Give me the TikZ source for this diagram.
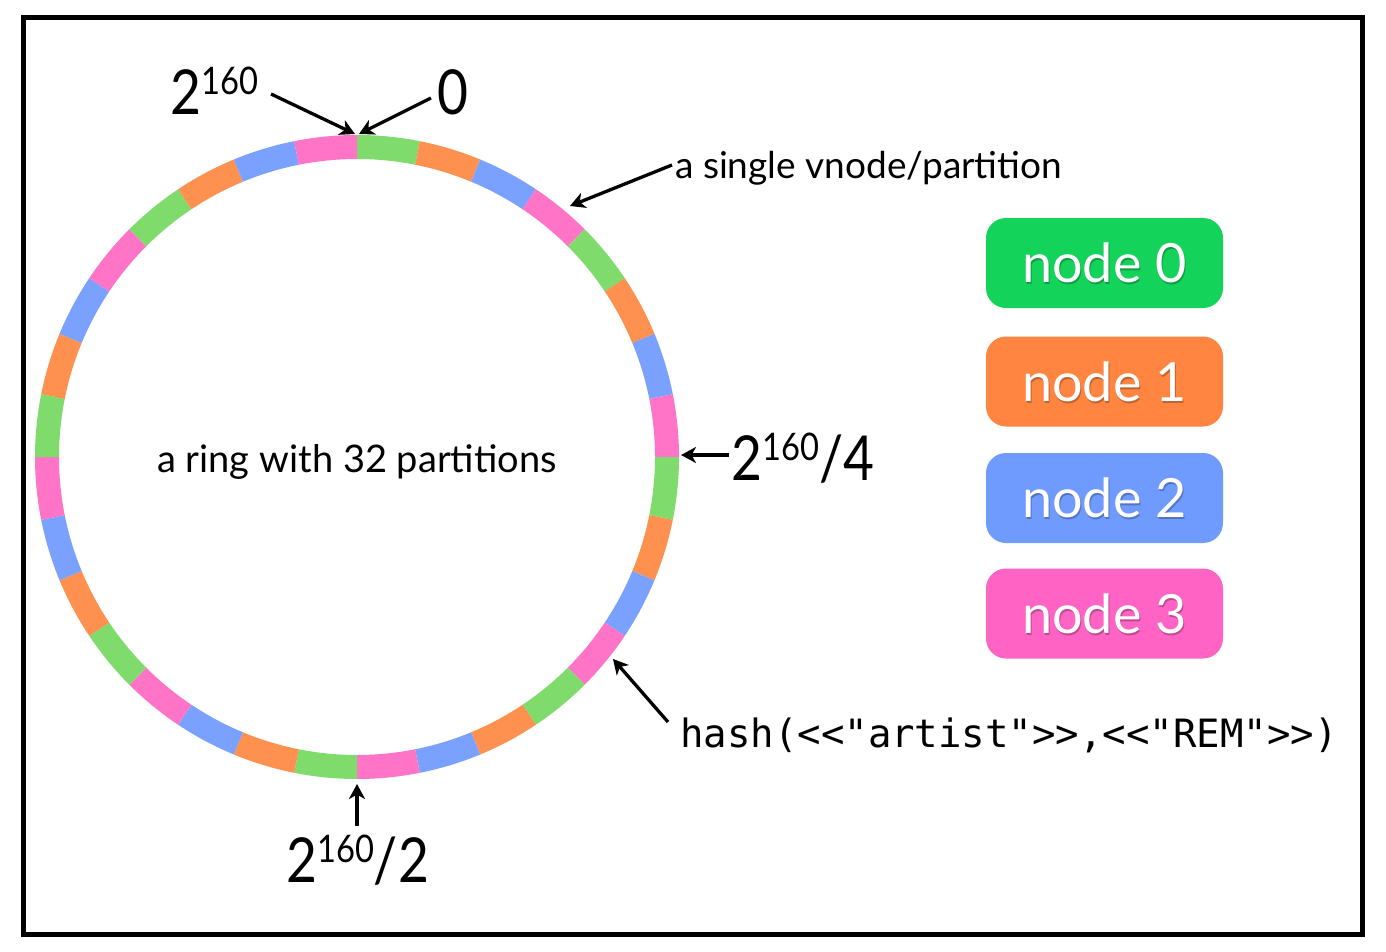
\documentclass[tikz,border=0pt]{standalone}
\usepackage{fontspec}
\setmainfont{Lato}
\newfontfamily\monofont[Ligatures=TeXOff]{DejaVu Sans Mono}
\usetikzlibrary{arrows.meta}
\definecolor{rgreen}{HTML}{7FDC6C}
\definecolor{rorange}{HTML}{FF9150}
\definecolor{rblue}{HTML}{7BA1FF}
\definecolor{rpink}{HTML}{FF74C7}
\definecolor{bgreen}{HTML}{14D35B}
\definecolor{borange}{HTML}{FF8540}
\definecolor{bblue}{HTML}{6F9BFF}
\definecolor{bpink}{HTML}{FF63C3}
\newcommand\bigexp[1]{\scalebox{0.86}[1]{\fontsize{62}{62}\selectfont 2\raisebox{20pt}{\fontsize{38}{38}\selectfont 160}#1}}
\tikzset{
  nodebox/.style={rounded corners=20pt, minimum width=237pt, minimum height=90pt, inner sep=0pt},
  boxtext/.style={inner sep=0pt, text=white, font=\fontsize{54}{54}\selectfont},
  shadowtext/.style={inner sep=0pt, font=\fontsize{54}{54}\selectfont},
  lbl/.style={inner sep=0pt, font=\fontsize{37}{37}\selectfont},
  arr/.style={-{Stealth[length=15pt,width=16pt,inset=4.5pt]}, line width=3.3pt}
}
\begin{document}
\begin{tikzpicture}[x=1pt,y=-1pt]
\useasboundingbox (0,0) rectangle (1386,952);
\fill[white] (0,0) rectangle (1386,952);
\draw[line width=5pt] (23.5,17.5) rectangle (1362.5,934.5);
\coordinate (c) at (357,457);
\foreach \g in {0,...,7}{
  \foreach \j/\col in {0/rgreen,1/rorange,2/rblue,3/rpink}{
    \pgfmathsetmacro\a{-90+11.25*(4*\g+\j)}
    \pgfmathsetmacro\b{\a+11.25}
    \fill[\col, shift={(c)}] (\a:322) arc[start angle=\a, end angle=\b, radius=322]
      -- (\b:298) arc[start angle=\b, end angle=\a, radius=298] -- cycle;
  }
}
% ring label
\node[lbl, font=\fontsize{38}{38}\selectfont] (ringlbl) at (357,462) {a ring with 32 partitions};
% legend boxes
\node[nodebox, fill=bgreen] (n0) at (1104.5,263) {};
\node[nodebox, fill=borange] (n1) at (1104.5,381.5) {};
\node[nodebox, fill=bblue] (n2) at (1104.5,498) {};
\node[nodebox, fill=bpink] (n3) at (1104.5,613.5) {};
\node[shadowtext, text=bgreen!75!black] (s0) at ([shift={(1,2)}]n0.center) {node 0};
\node[boxtext] (t0) at (n0.center) {node 0};
\node[shadowtext, text=borange!75!black] (s1) at ([shift={(1,2)}]n1.center) {node 1};
\node[boxtext] (t1) at (n1.center) {node 1};
\node[shadowtext, text=bblue!75!black] (s2) at ([shift={(1,2)}]n2.center) {node 2};
\node[boxtext] (t2) at (n2.center) {node 2};
\node[shadowtext, text=bpink!75!black] (s3) at ([shift={(1,2)}]n3.center) {node 3};
\node[boxtext] (t3) at (n3.center) {node 3};
% labels
\node[inner sep=0pt, anchor=base west] (lmax) at (170,115) {\bigexp{}};
\node[inner sep=0pt, anchor=base west, font=\fontsize{62}{62}\selectfont] (lzero) at (437,115) {\scalebox{0.86}[1]{0}};
\node[inner sep=0pt, anchor=base west] (lquarter) at (731,480) {\bigexp{/4}};
\node[inner sep=0pt, anchor=base west] (lhalf) at (286,882) {\bigexp{/2}};
\node[lbl, anchor=west] (lvnode) at (675,168) {a single vnode/partition};
\node[inner sep=0pt, anchor=west, font=\fontsize{39}{39}\selectfont\monofont] (lhash) at (680,735) {hash(<<"artist">>,<<"REM">>)};
% arrow coordinates
\coordinate (amaxs) at (271,94);
\coordinate (amaxe) at (355,134);
\coordinate (azeros) at (431,98);
\coordinate (azeroe) at (359,134);
\coordinate (avns) at (672,165);
\coordinate (avne) at (570,206);
\coordinate (aqs) at (729,455);
\coordinate (aqe) at (681,455);
\coordinate (ahs) at (357,826);
\coordinate (ahe) at (357,784);
\coordinate (ahashs) at (668,722);
\coordinate (ahashe) at (613,659);
\draw[arr] (amaxs) -- (amaxe);
\draw[arr] (azeros) -- (azeroe);
\draw[arr] (avns) -- (avne);
\draw[arr] (aqs) -- (aqe);
\draw[arr] (ahs) -- (ahe);
\draw[arr] (ahashs) -- (ahashe);
\end{tikzpicture}
\end{document}
